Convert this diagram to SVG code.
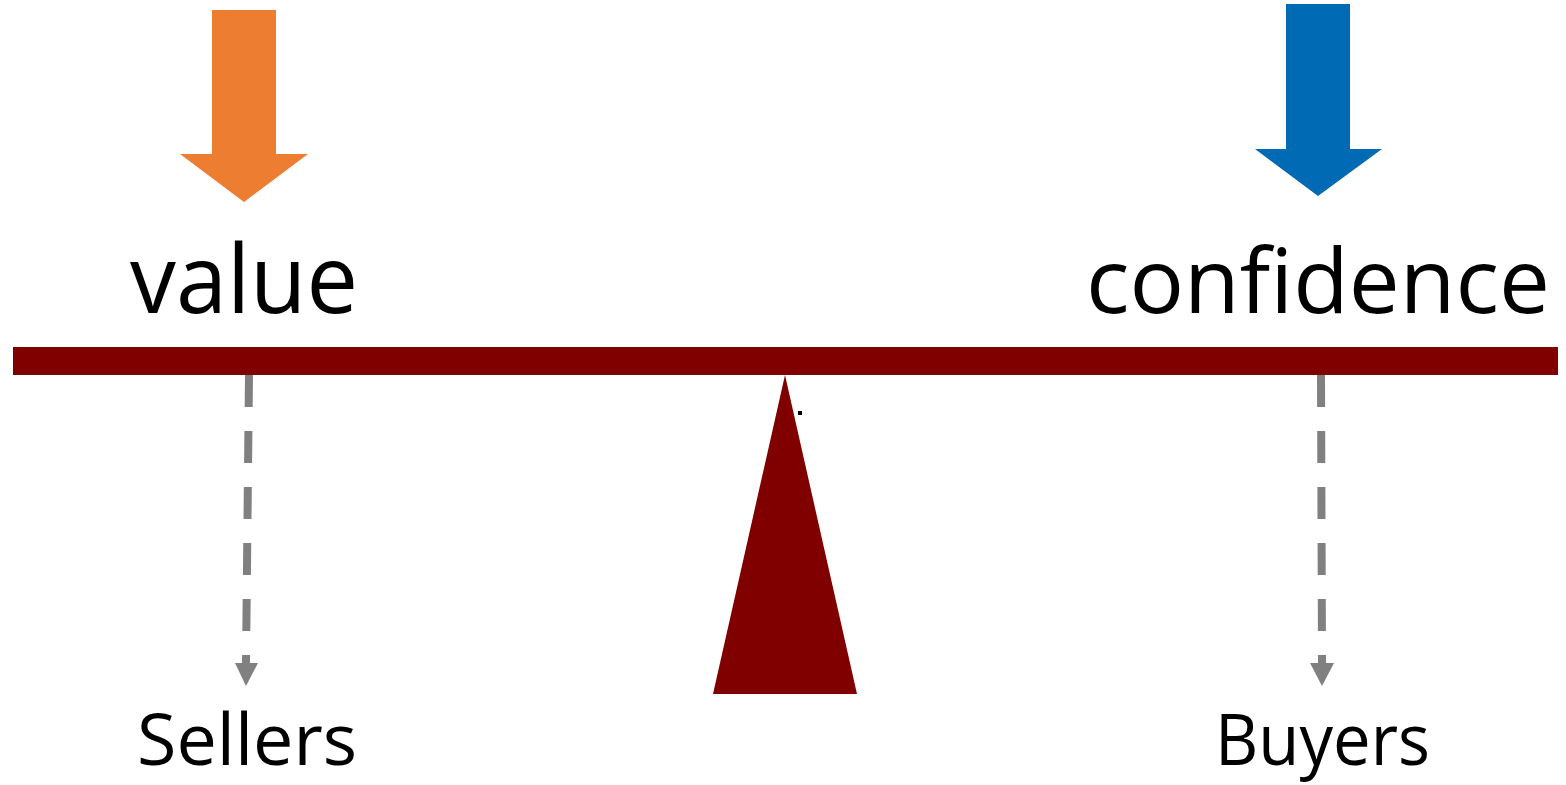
<svg xmlns="http://www.w3.org/2000/svg" width="1566" height="785" viewBox="0 0 1566 785">
<style>
.lbl{font-family:"Open Sans","Liberation Sans",sans-serif;fill:#000}
.big{font-size:95px}
.mid{font-size:90px}
.small{font-size:72px}
.dash{stroke:#808080;stroke-width:8;stroke-dasharray:32 24;fill:none}
.head{fill:#808080}
</style>
<rect width="1566" height="785" fill="#fff"/>
<g id="value-arrow">
<polygon points="212,10 276,10 276,154 308,154 244,202 180,154 212,154" fill="#ED7D31"/>
</g>
<g id="confidence-arrow">
<polygon points="1286,4 1350,4 1350,149 1382,149 1318,196 1255,149 1286,149" fill="#006AB5"/>
</g>
<g id="value"><text class="lbl big" x="130" y="313" textLength="228" lengthAdjust="spacingAndGlyphs">value</text></g>
<g id="confidence"><text class="lbl mid" x="1086" y="313" textLength="464" lengthAdjust="spacingAndGlyphs">confidence</text></g>
<g id="beam"><rect x="13" y="347" width="1545" height="28" fill="#800000"/></g>
<g id="fulcrum"><polygon points="785,375 857,694 713,694" fill="#800000"/>
<rect x="798" y="411" width="4" height="4" fill="#000"/></g>
<g id="connectors">
<line class="dash" x1="249" y1="375" x2="246" y2="663"/>
<polygon class="head" points="235,663 258,663 246,686"/>
<line class="dash" x1="1321" y1="375" x2="1322" y2="663"/>
<polygon class="head" points="1310,663 1334,663 1322,686"/>
</g>
<g id="sellers"><text class="lbl small" x="137" y="765" textLength="220" lengthAdjust="spacingAndGlyphs">Sellers</text></g>
<g id="buyers"><text class="lbl small" x="1215" y="765" textLength="215" lengthAdjust="spacingAndGlyphs">Buyers</text></g>
</svg>
